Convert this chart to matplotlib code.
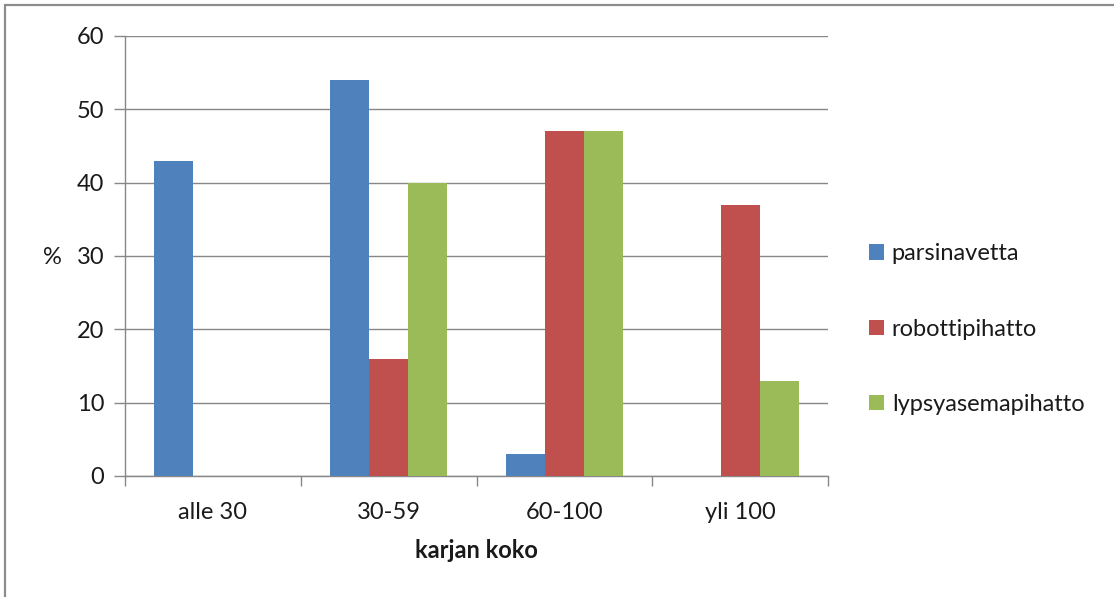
import numpy as np
import matplotlib.pyplot as plt
from matplotlib.patches import Rectangle

plt.rcParams['font.family'] = ['Lato', 'DejaVu Sans']

# karjan koko -luokat ja osuudet (%)
categories = ['alle 30', '30-59', '60-100', 'yli 100']
series_names = ['parsinavetta', 'robottipihatto', 'lypsyasemapihatto']
parsinavetta = [43, 54, 3, 0]
robottipihatto = [0, 16, 47, 37]
lypsyasemapihatto = [0, 40, 47, 13]
yticks = [0, 10, 20, 30, 40, 50, 60]

colors = ['#4F81BD', '#C0504D', '#9BBB59']
grid_col = '#878787'
text_col = '#1a1a1a'
fs = 17

fig = plt.figure(figsize=(11.14, 5.97), dpi=100)
ax = fig.add_axes([125 / 1114, 121 / 597, 703 / 1114, 440 / 597])

# kehys kuvan ympärillä
fig.patches.append(Rectangle((5 / 1114, -0.2), 1.2, 1.2 - 5 / 597,
                             transform=fig.transFigure, fill=False,
                             edgecolor='#8c8c8c', linewidth=1.6, zorder=0))

x = np.arange(len(categories))
w = 0.222
for i, vals in enumerate([parsinavetta, robottipihatto, lypsyasemapihatto]):
    ax.bar(x + (i - 1) * w, vals, width=w, color=colors[i],
           label=series_names[i], zorder=3)

ax.set_xlim(-0.5, len(categories) - 0.5)
ax.set_ylim(0, 60)
ax.set_yticks(yticks)
ax.yaxis.grid(True, color=grid_col, linewidth=1.0, zorder=0)

ax.set_xticks(x)
ax.set_xticklabels(categories)
ax.set_xticks(np.arange(len(categories) + 1) - 0.5, minor=True)
ax.tick_params(axis='x', which='major', length=0, pad=19,
               labelsize=fs, labelcolor=text_col)
ax.tick_params(axis='x', which='minor', length=7, width=1.0, color=grid_col)
ax.tick_params(axis='y', length=8, width=1.0, color=grid_col, pad=7,
               labelsize=fs, labelcolor=text_col)

for side in ['top', 'right']:
    ax.spines[side].set_visible(False)
for side in ['left', 'bottom']:
    ax.spines[side].set_color(grid_col)
    ax.spines[side].set_linewidth(1.0)

ax.set_xlabel('karjan koko', fontsize=fs, fontweight='bold',
              color=text_col, labelpad=11)
fig.text(52 / 1114, 1 - 257 / 597, '%', fontsize=fs,
         color=text_col, ha='center', va='center')

leg = ax.legend(loc='center left', bbox_to_anchor=(1.028, 0.334),
                frameon=False, fontsize=fs, handlelength=0.62,
                handleheight=0.62, handletextpad=0.35, labelspacing=2.3,
                labelcolor=text_col)

fig.savefig('out.png', dpi=100)
